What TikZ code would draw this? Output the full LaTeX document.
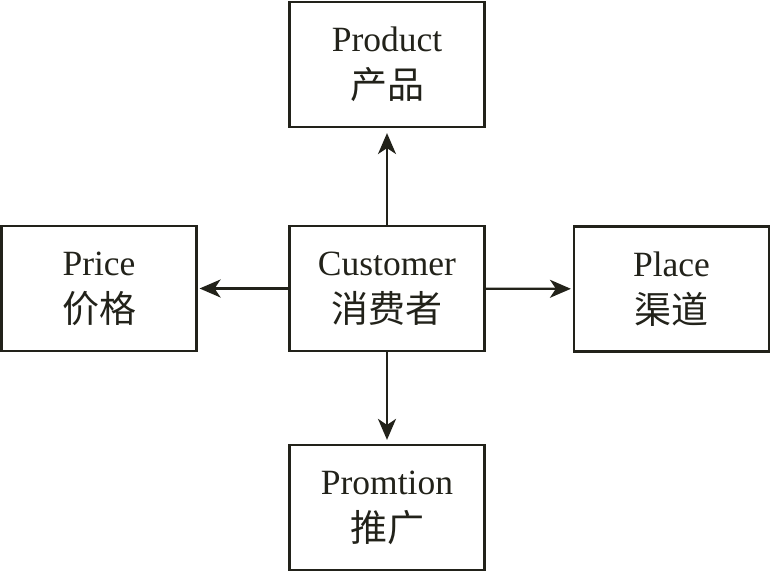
\documentclass[tikz,border=0pt]{standalone}
\usepackage{fontspec}
\setmainfont{Liberation Serif}
\newfontfamily\cjk{Noto Sans CJK SC}
\usetikzlibrary{arrows.meta}
\definecolor{ink}{HTML}{22221A}
\begin{document}
\begin{tikzpicture}[x=1pt,y=1pt,
  box/.style={draw=ink,line width=2.2pt,minimum width=195pt,minimum height=125pt,
    inner sep=0pt,align=center,text=ink,font=\fontsize{35.5}{49}\selectfont},
  cjkt/.style={},
  conn/.style={draw=ink,line width=2.2pt,-{Stealth[length=21pt,width=18pt,inset=6pt]},shorten >=4pt}]
\useasboundingbox (0,0) rectangle (771,572);
\node[box] (product) at (387,507.5) {Product\\[-2pt]{\cjk\fontsize{37}{49}\selectfont 产品}};
\node[box] (price) at (99,283.5) {Price\\[-2pt]{\cjk\fontsize{37}{49}\selectfont 价格}};
\node[box] (customer) at (387,283.5) {Customer\\[-2pt]{\cjk\fontsize{37}{49}\selectfont 消费者}};
\node[box] (place) at (671.5,283) {Place\\[-2pt]{\cjk\fontsize{37}{49}\selectfont 渠道}};
\node[box] (promtion) at (387,64.5) {Promtion\\[-2pt]{\cjk\fontsize{37}{49}\selectfont 推广}};
\draw[conn,shorten >=5pt] (customer) -- (product);
\draw[conn,shorten >=2pt] (customer) -- (price);
\draw[conn,shorten >=2pt] (customer) -- (place);
\draw[conn] (customer) -- (promtion);
\end{tikzpicture}
\end{document}
